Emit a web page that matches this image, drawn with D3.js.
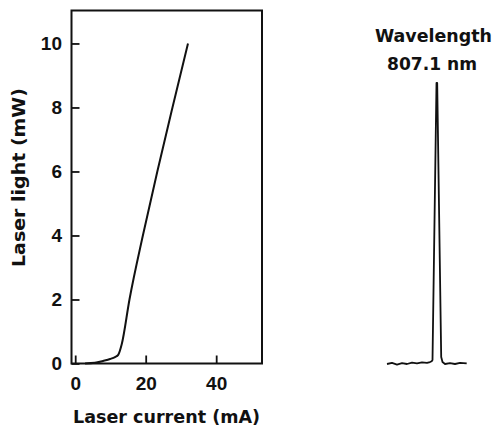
<!DOCTYPE html>
<html>
<head>
<meta charset="utf-8">
<script src="https://cdn.jsdelivr.net/npm/d3@7"></script>
<style>
  html, body { margin: 0; padding: 0; background: #fff; }
  svg { display: block; }
  text { font-family: "DejaVu Sans", "Liberation Sans", Arial, sans-serif; font-weight: bold; fill: #111; }
</style>
</head>
<body>
<svg id="chart" width="493" height="428"></svg>
<script>
// ---- Data ----
// L-I curve: laser current (mA) vs laser light (mW)
const current = [2.8, 5.6, 7.9, 9.9, 11.3, 12.2, 13.2, 15.4, 19.2, 23.3, 27.6, 32.0];
const light   = [0.0, 0.02, 0.08, 0.14, 0.2, 0.27, 0.6, 2.0, 4.0, 6.0, 8.0, 10.0];
const xTicks = [0, 20, 40];
const yTicks = [0, 2, 4, 6, 8, 10];

// Spectrum: wavelength (nm) vs relative intensity
const wavelength = [802.1, 802.6, 803.1, 803.6, 804.1, 804.6, 805.1, 805.6, 806.1, 806.4, 806.57,
                    806.65, 807.05, 807.12, 807.52, 807.65, 807.9, 808.4, 808.9, 809.4, 810.07];
const intensity  = [0.0, 0.004, -0.002, 0.003, 0.0, 0.005, 0.002, 0.006, 0.004, 0.007, 0.01,
                    0.014, 1.0, 1.0, 0.025, 0.007, 0.0, 0.003, 0.0, 0.004, 0.002];
const peakLabel = ["Wavelength", "807.1 nm"];
const xTitle = "Laser current (mA)";
const yTitle = "Laser light (mW)";

const svg = d3.select("#chart");
const ink = "#111";

// ---- Left panel ----
const pL = 71.5, pR = 262, pT = 10.5, pB = 363.5;
const x = d3.scaleLinear().domain([-1.05, 53]).range([pL, pR]);
const y = d3.scaleLinear().domain([0, 11.03]).range([pB, pT]);

svg.append("rect")
  .attr("x", pL).attr("y", pT)
  .attr("width", pR - pL).attr("height", pB - pT)
  .attr("fill", "none").attr("stroke", ink).attr("stroke-width", 2);

const gx = svg.append("g").attr("transform", `translate(0,${pB})`)
  .call(d3.axisBottom(x).tickValues(xTicks).tickSize(-8).tickPadding(13.5).tickFormat(d3.format("d")));
const gy = svg.append("g").attr("transform", `translate(${pL},0)`)
  .call(d3.axisLeft(y).tickValues(yTicks).tickSize(-8).tickPadding(9.5).tickFormat(d3.format("d")));

[gx, gy].forEach(g => {
  g.select(".domain").remove();
  g.selectAll(".tick line").attr("stroke", ink).attr("stroke-width", 1.8);
  g.selectAll(".tick text").attr("fill", ink)
    .style("font-family", '"Liberation Sans", Arial, sans-serif')
    .style("font-weight", "bold").style("font-size", "19px");
});

const liData = current.map((c, i) => [c, light[i]]);
svg.append("path")
  .datum(liData)
  .attr("fill", "none").attr("stroke", ink).attr("stroke-width", 2)
  .attr("stroke-linejoin", "round")
  .attr("d", d3.line().x(d => x(d[0])).y(d => y(d[1])).curve(d3.curveMonotoneX));

svg.append("text")
  .attr("x", 166.5).attr("y", 423)
  .attr("text-anchor", "middle")
  .attr("textLength", 187).attr("lengthAdjust", "spacingAndGlyphs")
  .style("font-size", "17.5px")
  .text(xTitle);

svg.append("text")
  .attr("transform", "translate(25,177.5) rotate(-90)")
  .attr("text-anchor", "middle")
  .attr("textLength", 179).attr("lengthAdjust", "spacingAndGlyphs")
  .style("font-size", "17.5px")
  .text(yTitle);

// ---- Right panel: spectrum ----
const sx = d3.scaleLinear().domain([802.1, 810.1]).range([387, 467]);
const sy = d3.scaleLinear().domain([0, 1]).range([364, 83]);

const spData = wavelength.map((w, i) => [w, intensity[i]]);
svg.append("path")
  .datum(spData)
  .attr("fill", "none").attr("stroke", ink).attr("stroke-width", 1.8)
  .attr("stroke-linejoin", "round")
  .attr("d", d3.line().x(d => sx(d[0])).y(d => sy(d[1])));

svg.append("text")
  .attr("x", 433.5).attr("y", 42)
  .attr("text-anchor", "middle")
  .attr("textLength", 117).attr("lengthAdjust", "spacingAndGlyphs")
  .style("font-size", "17.5px")
  .text(peakLabel[0]);
svg.append("text")
  .attr("x", 432).attr("y", 70)
  .attr("text-anchor", "middle")
  .attr("textLength", 90).attr("lengthAdjust", "spacingAndGlyphs")
  .style("font-size", "17.5px")
  .text(peakLabel[1]);
</script>
</body>
</html>
